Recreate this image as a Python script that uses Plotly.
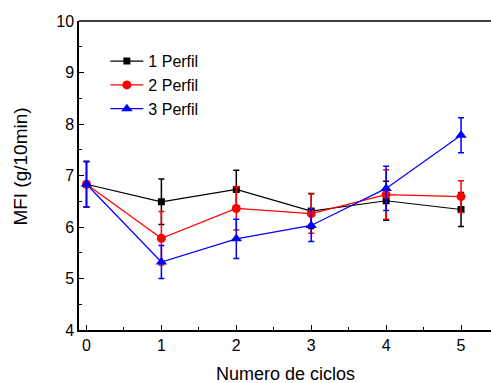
import plotly.graph_objects as go

ciclos = [0, 1, 2, 3, 4, 5]
perfil1 = [6.83, 6.49, 6.73, 6.31, 6.51, 6.34]
perfil1_err = [0.44, 0.44, 0.37, 0.34, 0.38, 0.33]
perfil2 = [6.83, 5.78, 6.36, 6.26, 6.63, 6.59]
perfil2_err = [0.44, 0.52, 0.42, 0.38, 0.48, 0.31]
perfil3 = [6.83, 5.32, 5.77, 6.03, 6.75, 7.78]
perfil3_err = [0.44, 0.32, 0.38, 0.31, 0.43, 0.34]

series = [
    ("1 Perfil", perfil1, perfil1_err, "#000000", "square", 7),
    ("2 Perfil", perfil2, perfil2_err, "#ff0000", "circle", 9),
    ("3 Perfil", perfil3, perfil3_err, "#0000ff", "triangle-up", 10),
]

FONT = "Liberation Sans, Arial, sans-serif"

fig = go.Figure()
for name, vals, errs, color, sym, size in series:
    fig.add_trace(go.Scatter(
        x=ciclos, y=vals, name=name, mode="lines+markers",
        line=dict(color=color, width=1.2),
        marker=dict(symbol=sym, size=size, color=color),
        error_y=dict(type="data", array=errs, visible=True, color=color,
                     thickness=1.5, width=3),
    ))

fig.update_layout(
    width=491, height=383,
    margin=dict(l=79, r=0, t=21, b=53),
    paper_bgcolor="white", plot_bgcolor="white",
    font=dict(family=FONT, color="black", size=16),
    showlegend=True,
    legend=dict(x=0.064, y=0.925, xanchor="left", yanchor="top",
                bgcolor="rgba(0,0,0,0)", font=dict(size=16),
                itemwidth=33, tracegroupgap=0),
    xaxis=dict(
        range=[-0.1, 5.4], tickmode="array", tickvals=ciclos,
        ticks="inside", ticklen=5, tickwidth=1, tickcolor="black",
        minor=dict(ticks="inside", ticklen=3, dtick=0.5, tick0=0, tickcolor="black"),
        showgrid=False, zeroline=False,
        showline=True, linecolor="black", linewidth=1.5, mirror=False,
        tickfont=dict(size=16),
    ),
    yaxis=dict(
        range=[4, 10], dtick=1,
        ticks="inside", ticklen=5, tickwidth=1, tickcolor="black",
        minor=dict(ticks="inside", ticklen=3, dtick=0.5, tickcolor="black"),
        showgrid=False, zeroline=False,
        showline=True, linecolor="black", linewidth=1.5, mirror=False,
        tickfont=dict(size=16),
    ),
    annotations=[
        dict(text="Numero de ciclos", xref="paper", yref="paper",
             x=0.5, y=-0.142, xanchor="center", yanchor="middle",
             showarrow=False, font=dict(size=18)),
        dict(text="MFI (g/10min)", xref="paper", yref="paper",
             x=-0.143, y=0.529, xanchor="center", yanchor="middle",
             textangle=-90, showarrow=False, font=dict(size=19)),
    ],
)
# top frame line
fig.add_shape(type="line", xref="paper", yref="paper", x0=0, x1=1, y0=1, y1=1,
              line=dict(color="black", width=1.5))

fig.write_html("out.html")
